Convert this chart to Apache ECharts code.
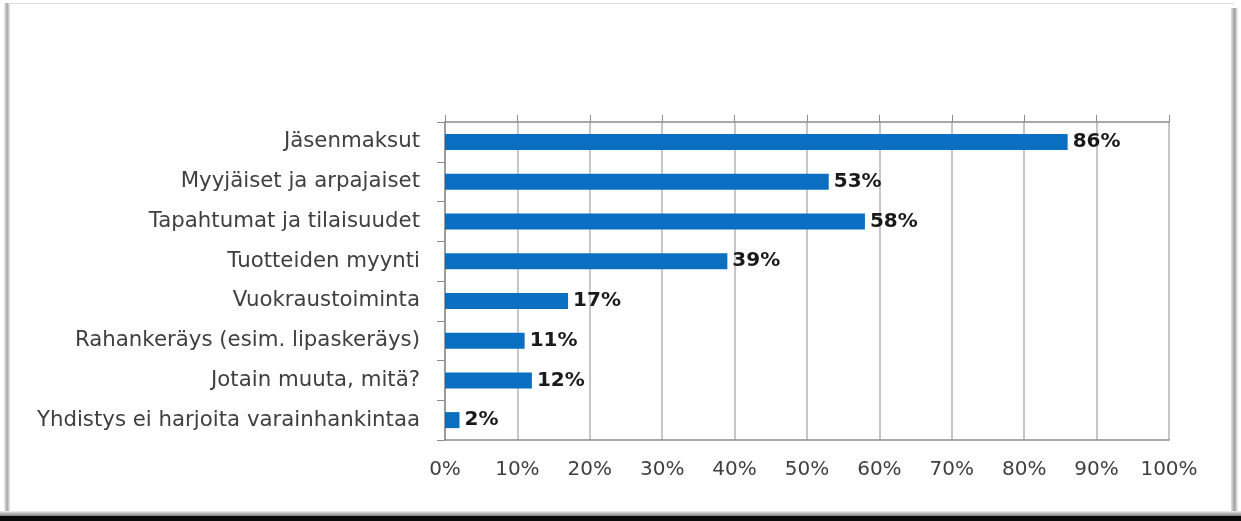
<!DOCTYPE html>
<html>
<head>
<meta charset="utf-8">
<script src="https://cdn.jsdelivr.net/npm/echarts@6/dist/echarts.min.js"></script>
<style>
html,body{margin:0;padding:0;background:#fff;}
#c{width:1241px;height:521px;}
</style>
</head>
<body>
<div id="c"></div>
<script>
const categories = [
  "Jäsenmaksut",
  "Myyjäiset ja arpajaiset",
  "Tapahtumat ja tilaisuudet",
  "Tuotteiden myynti",
  "Vuokraustoiminta",
  "Rahankeräys (esim. lipaskeräys)",
  "Jotain muuta, mitä?",
  "Yhdistys ei harjoita varainhankintaa"
];
const values = [86, 53, 58, 39, 17, 11, 12, 2];
const tickLabels = ["0%","10%","20%","30%","40%","50%","60%","70%","80%","90%","100%"];

const FONT = "DejaVu Sans";
const chart = echarts.init(document.getElementById('c'), null, {renderer: 'canvas'});
chart.setOption({
  backgroundColor: '#ffffff',
  animation: false,
  graphic: [
    {type:'rect', shape:{x:4,y:3,width:6,height:513}, style:{fill:new echarts.graphic.LinearGradient(0,0,1,0,[{offset:0,color:'#f6f6f6'},{offset:0.5,color:'#a4a4a4'},{offset:1,color:'#ececec'}])}, silent:true},
    {type:'rect', shape:{x:1231,y:8,width:7,height:508}, style:{fill:new echarts.graphic.LinearGradient(0,0,1,0,[{offset:0,color:'#e4e4e4'},{offset:0.5,color:'#a0a0a0'},{offset:1,color:'#f6f6f6'}])}, silent:true},
    {type:'rect', shape:{x:8,y:3,width:1226,height:1}, style:{fill:'#dcdcdc'}, silent:true},
    {type:'rect', shape:{x:0,y:511,width:1241,height:5}, style:{fill:new echarts.graphic.LinearGradient(0,0,0,1,[{offset:0,color:'#f0f0f0'},{offset:1,color:'#808080'}])}, silent:true},
    {type:'rect', shape:{x:0,y:516,width:1241,height:5}, style:{fill:'#0a0a0a'}, silent:true}
  ],
  grid: {left: 445, right: 72, top: 122, bottom: 81, containLabel: false},
  xAxis: [
    {
      type: 'value', position: 'top', min: 0, max: 100, interval: 10,
      axisLine: {show: true, lineStyle: {color: '#8c8c8c', width: 1.5}},
      axisTick: {show: true, length: 7, lineStyle: {color: '#8c8c8c'}},
      axisLabel: {show: false},
      splitLine: {show: true, lineStyle: {color: '#b4b4b4', width: 1.5}}
    },
    {
      type: 'value', position: 'bottom', min: 0, max: 100, interval: 10,
      axisLine: {show: true, onZero: false, lineStyle: {color: '#8c8c8c', width: 1.5}},
      axisTick: {show: false},
      splitLine: {show: false},
      axisLabel: {
        show: true, margin: 20, color: '#404040', fontFamily: FONT, fontSize: 20,
        formatter: function (v) { return tickLabels[Math.round(v / 10)]; }
      }
    }
  ],
  yAxis: {
    type: 'category', data: categories, inverse: true,
    axisLine: {show: true, lineStyle: {color: '#8c8c8c', width: 1.5}},
    axisTick: {show: true, length: 8, lineStyle: {color: '#8c8c8c'}},
    axisLabel: {margin: 25, color: '#404040', fontFamily: FONT, fontSize: 21.3},
    splitLine: {show: false}
  },
  series: [{
    type: 'bar', xAxisIndex: 0, data: values, barWidth: 16,
    itemStyle: {color: '#0b6fc1'},
    label: {
      show: true, position: 'right', distance: 5,
      formatter: '{c}%', fontFamily: FONT, fontWeight: 'bold', fontSize: 20, color: '#1a1a1a'
    }
  }]
});
</script>
</body>
</html>
